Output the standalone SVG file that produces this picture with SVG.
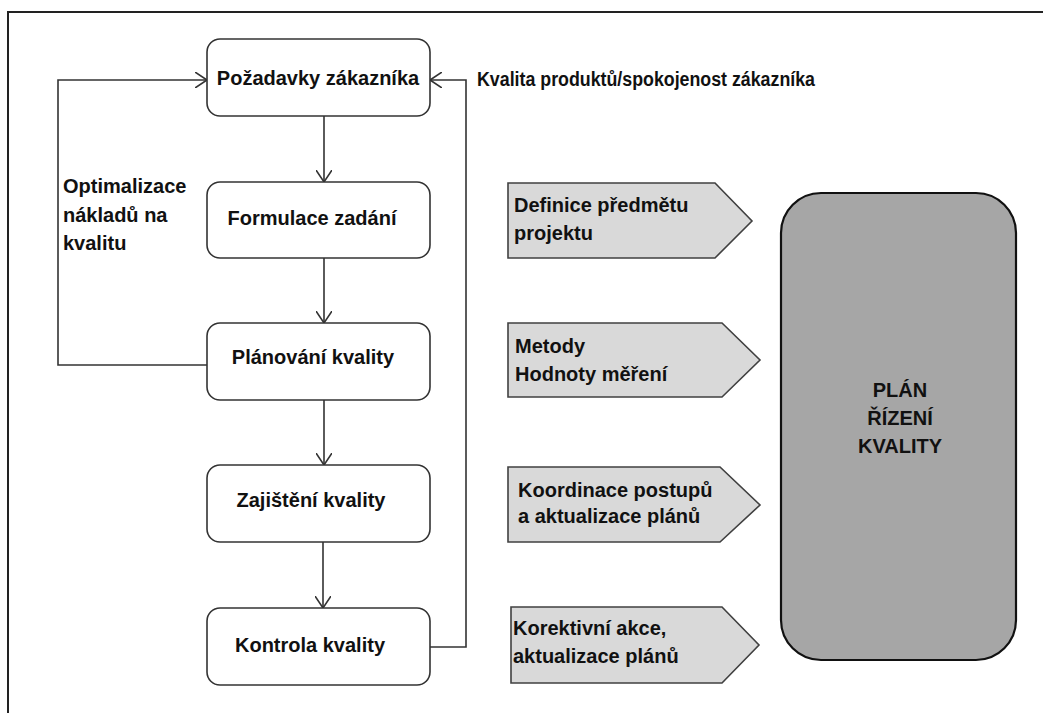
<svg xmlns="http://www.w3.org/2000/svg" width="1043" height="713" viewBox="0 0 1043 713">
<style>
.t{font-family:"Liberation Sans",Arial,sans-serif;font-weight:bold;font-size:20px;fill:#111}
.box{fill:#fff;stroke:#333;stroke-width:1.6}
.pent{fill:#d9d9d9;stroke:#404040;stroke-width:1.6}
.con{fill:none;stroke:#333;stroke-width:1.6}
</style>
<defs>
<marker id="arr" viewBox="0 0 12 16" refX="12" refY="8" markerWidth="12" markerHeight="16" markerUnits="userSpaceOnUse" orient="auto">
<path d="M0,0 L12,8 L0,16" fill="none" stroke="#333" stroke-width="1.6"/>
</marker>
</defs>
<rect width="1043" height="713" fill="#fff"/>
<rect id="frame" x="8" y="12" width="1060" height="720" fill="none" stroke="#222" stroke-width="2"/>

<g id="connectors">
<line class="con" x1="324" y1="116" x2="324" y2="182" marker-end="url(#arr)"/>
<line class="con" x1="324" y1="258" x2="324" y2="323" marker-end="url(#arr)"/>
<line class="con" x1="324" y1="400" x2="324" y2="465" marker-end="url(#arr)"/>
<line class="con" x1="323" y1="542" x2="323" y2="608" marker-end="url(#arr)"/>
<polyline class="con" points="207,365 58,365 58,80 207,80" marker-end="url(#arr)"/>
<polyline class="con" points="430,647 466,647 466,80 430,80" marker-end="url(#arr)"/>
</g>

<text id="lbl-kvalita" class="t" x="477" y="86" textLength="338" lengthAdjust="spacingAndGlyphs">Kvalita produktů/spokojenost zákazníka</text>
<text id="lbl-optim" class="t" x="63"><tspan x="63" y="193">Optimalizace</tspan><tspan x="63" y="222">nákladů na</tspan><tspan x="63" y="250">kvalitu</tspan></text>

<g id="n-pozadavky">
<rect class="box" x="207" y="39" width="223" height="77" rx="13"/>
<text class="t" x="318" y="85" text-anchor="middle">Požadavky zákazníka</text>
</g>
<g id="n-formulace">
<rect class="box" x="207" y="182" width="223" height="76" rx="13"/>
<text class="t" x="312" y="225" text-anchor="middle">Formulace zadání</text>
</g>
<g id="n-planovani">
<rect class="box" x="207" y="323" width="223" height="77" rx="13"/>
<text class="t" x="313" y="364" text-anchor="middle">Plánování kvality</text>
</g>
<g id="n-zajisteni">
<rect class="box" x="207" y="465" width="223" height="77" rx="13"/>
<text class="t" x="311" y="507" text-anchor="middle">Zajištění kvality</text>
</g>
<g id="n-kontrola">
<rect class="box" x="207" y="608" width="223" height="77" rx="13"/>
<text class="t" x="310" y="652" text-anchor="middle">Kontrola kvality</text>
</g>

<g id="p-definice">
<polygon class="pent" points="508,183 715,183 752,221 715,258 508,258"/>
<text class="t"><tspan x="514" y="212">Definice předmětu</tspan><tspan x="514" y="240">projektu</tspan></text>
</g>
<g id="p-metody">
<polygon class="pent" points="508,323 722,323 760,360 722,397 508,397"/>
<text class="t"><tspan x="515" y="353">Metody</tspan><tspan x="515" y="381">Hodnoty měření</tspan></text>
</g>
<g id="p-koordinace">
<polygon class="pent" points="508,467 720,467 760,505 720,542 508,542"/>
<text class="t"><tspan x="518" y="497">Koordinace postupů</tspan><tspan x="518" y="523">a aktualizace plánů</tspan></text>
</g>
<g id="p-korektivni">
<polygon class="pent" points="511,607 722,607 759,645 722,683 511,683"/>
<text class="t"><tspan x="513" y="635">Korektivní akce,</tspan><tspan x="513" y="663">aktualizace plánů</tspan></text>
</g>

<g id="n-plan">
<rect x="781" y="193" width="235" height="467" rx="40" fill="#a6a6a6" stroke="#111" stroke-width="2.2"/>
<text class="t" text-anchor="middle"><tspan x="900" y="397">PLÁN</tspan><tspan x="900" y="425">ŘÍZENÍ</tspan><tspan x="900" y="453">KVALITY</tspan></text>
</g>
</svg>
